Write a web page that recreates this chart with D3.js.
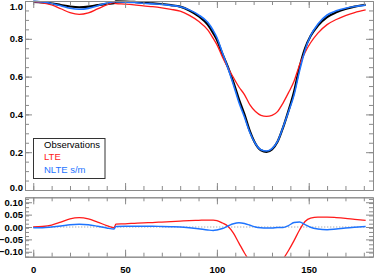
<!DOCTYPE html>
<html>
<head>
<meta charset="utf-8">
<script src="https://cdn.jsdelivr.net/npm/d3@7"></script>
<style>
body { margin: 0; background: #fff; }
svg text { font-family: "Liberation Sans", Arial, sans-serif; }
</style>
</head>
<body>
<script>

// wavelength-ish pixel positions along the profile
var xVals    = [0, 5, 10, 15, 20, 25, 30, 35, 40, 44,
                45, 50, 55, 60, 65, 70, 75, 80, 85, 90,
                95, 98, 100, 103, 106, 109, 112, 115, 118, 121,
                124, 127, 130, 133, 136, 139, 142, 145, 148, 151,
                155, 160, 165, 170, 175, 181];

// observed normalised intensity
var obsVals  = [0.995, 0.992, 0.987, 0.979, 0.971, 0.967, 0.970, 0.978, 0.985, 0.988,
                0.998, 0.997, 0.995, 0.991, 0.988, 0.984, 0.978, 0.970, 0.950, 0.920,
                0.875, 0.830, 0.795, 0.720, 0.650, 0.570, 0.480, 0.400, 0.310, 0.245,
                0.210, 0.202, 0.215, 0.255, 0.330, 0.420, 0.520, 0.650, 0.750, 0.815,
                0.870, 0.915, 0.940, 0.958, 0.970, 0.980];

// residuals obs - model
var lteRes   = [0.000, 0.002, 0.008, 0.020, 0.033, 0.038, 0.033, 0.020, 0.006, -0.003,
                0.012, 0.013, 0.015, 0.017, 0.018, 0.020, 0.022, 0.024, 0.026, 0.027,
                0.028, 0.028, 0.026, 0.016, 0.003, -0.025, -0.065, -0.105, -0.140, -0.170,
                -0.185, -0.188, -0.180, -0.160, -0.130, -0.095, -0.055, -0.012, 0.022, 0.036,
                0.040, 0.040, 0.038, 0.035, 0.031, 0.027];

var nlteRes  = [-0.003, -0.003, 0.000, 0.004, 0.009, 0.011, 0.009, 0.003, -0.004, -0.008,
                0.002, 0.003, 0.003, 0.003, 0.003, 0.002, 0.001, 0.000, -0.003, -0.007,
                -0.012, -0.014, -0.012, -0.006, 0.004, 0.013, 0.017, 0.014, 0.007, 0.000,
                -0.003, -0.004, -0.004, -0.002, -0.002, 0.006, 0.018, 0.020, 0.010, -0.001,
                -0.008, -0.011, -0.008, -0.004, -0.001, 0.002];

var xTicks       = [0, 50, 100, 150];
var xMinor       = d3.range(0, 181, 10);
var yTicksTop    = [0.0, 0.2, 0.4, 0.6, 0.8, 1.0];
var yMinorTop    = d3.range(0, 1.001, 0.05);
var yTicksBot    = [-0.10, -0.05, 0.00, 0.05, 0.10];
var yMinorBot    = d3.range(-0.12, 0.121, 0.05 / 3);
var legendLabels = ["Observations", "LTE", "NLTE s/m"];

var C_BLACK = "#000000";
var C_RED   = "#ff1a1a";
var C_BLUE  = "#1e74ff";

function axis_style(g) {
    g.selectAll("path, line").attr("stroke", "#8a8a8a").attr("stroke-width", 1);
    g.selectAll("text").attr("fill", "#000").attr("font-size", "9.5px").attr("font-weight", "bold");
}

function panel_frame(svg, x, y, d) {
    // major + minor ticks on all four sides, pointing in
    var sides = [
        {ax: d3.axisLeft(y),   t: "translate(" + x.range()[0] + ",0)", v: d.yMajor, m: d.yMinor, lab: d.yFormat},
        {ax: d3.axisRight(y),  t: "translate(" + x.range()[1] + ",0)", v: d.yMajor, m: d.yMinor, lab: null},
        {ax: d3.axisBottom(x), t: "translate(0," + y.range()[0] + ")", v: xTicks, m: xMinor, lab: d.xFormat},
        {ax: d3.axisTop(x),    t: "translate(0," + y.range()[1] + ")", v: xTicks, m: xMinor, lab: null}
    ];
    sides.forEach(function(s, i) {
        var gMin = svg.append("g").attr("transform", s.t)
            .call(s.ax.tickValues(s.m).tickSize(-4).tickSizeOuter(0).tickFormat(""));
        axis_style(gMin);
        var ax2 = (i == 0 ? d3.axisLeft(y) : i == 1 ? d3.axisRight(y) : i == 2 ? d3.axisBottom(x) : d3.axisTop(x));
        var gMaj = svg.append("g").attr("transform", s.t)
            .call(ax2.tickValues(s.v).tickSize(-7).tickSizeOuter(0)
                .tickPadding(i == 2 ? 9.5 : 2)
                .tickFormat(s.lab ? s.lab : ""));
        axis_style(gMaj);
        if (i == 0 && d.nudge) gMaj.selectAll("text").attr("transform", d.nudge);
    });
}

window.onload = function() {

    var W = 374, H = 274;
    var svg = d3.select("body").append("svg").attr("width", W).attr("height", H);

    var x     = d3.scaleLinear().domain([-4.5, 185]).range([25, 373]);
    var yTop  = d3.scaleLinear().domain([0, 1.0]).range([190, 1]);
    var yBot  = d3.scaleLinear().domain([-0.12, 0.12]).range([256.7, 197.3]);

    var rows = xVals.map(function(v, i) {
        return {x: v, obs: obsVals[i], lte: obsVals[i] - lteRes[i], nlte: obsVals[i] - nlteRes[i],
                rl: lteRes[i], rn: nlteRes[i]};
    });

    var defs = svg.append("defs");
    defs.append("clipPath").attr("id", "clipTop").append("rect")
        .attr("x", 25).attr("y", 0).attr("width", 348).attr("height", 190);
    defs.append("clipPath").attr("id", "clipBot").append("rect")
        .attr("x", 25).attr("y", yBot.range()[1]).attr("width", 348)
        .attr("height", yBot.range()[0] - yBot.range()[1]);

    // top panel: profiles
    var gTop = svg.append("g").attr("clip-path", "url(#clipTop)");
    var series = [
        {key: "obs",  c: C_BLACK, w: 2.2},
        {key: "lte",  c: C_RED,   w: 1.3},
        {key: "nlte", c: C_BLUE,  w: 1.6}
    ];
    series.forEach(function(s) {
        var line = d3.line()
            .x(function(r) { return x(r.x); })
            .y(function(r) { return yTop(r[s.key]); })
            .curve(d3.curveMonotoneX);
        gTop.append("path").datum(rows)
            .attr("d", line).attr("fill", "none")
            .attr("stroke", s.c).attr("stroke-width", s.w);
    });

    panel_frame(svg, x, yTop, {
        yMajor: yTicksTop, yMinor: yMinorTop, yFormat: d3.format(".1f"), xFormat: null,
        nudge: function(v) { return v == 1 ? "translate(0,5)" : v == 0 ? "translate(0,-3)" : null; }
    });

    // legend
    var leg = svg.append("g");
    leg.append("rect").attr("x", 33.5).attr("y", 138.5).attr("width", 71.5).attr("height", 40)
        .attr("fill", "#fff").attr("stroke", "#333").attr("stroke-width", 1);
    var legColors = [C_BLACK, C_RED, C_BLUE];
    legendLabels.forEach(function(t, i) {
        leg.append("text").attr("x", 44).attr("y", 148 + i * 12.4)
            .attr("font-size", "9.5px").attr("fill", legColors[i]).text(t);
    });

    // bottom panel: residuals
    var gBot = svg.append("g").attr("clip-path", "url(#clipBot)");
    gBot.append("line")
        .attr("x1", x(0)).attr("x2", x(xVals[xVals.length - 1]))
        .attr("y1", yBot(0)).attr("y2", yBot(0))
        .attr("stroke", "#777").attr("stroke-width", 0.8).attr("stroke-dasharray", "1,2");
    [{key: "rl", c: C_RED, w: 1.3}, {key: "rn", c: C_BLUE, w: 1.4}].forEach(function(s) {
        var line = d3.line()
            .x(function(r) { return x(r.x); })
            .y(function(r) { return yBot(r[s.key]); })
            .curve(d3.curveMonotoneX);
        gBot.append("path").datum(rows)
            .attr("d", line).attr("fill", "none")
            .attr("stroke", s.c).attr("stroke-width", s.w);
    });

    panel_frame(svg, x, yBot, {
        yMajor: yTicksBot, yMinor: yMinorBot, yFormat: d3.format(".2f"), xFormat: d3.format("d")
    });
};
</script>
</body>
</html>
